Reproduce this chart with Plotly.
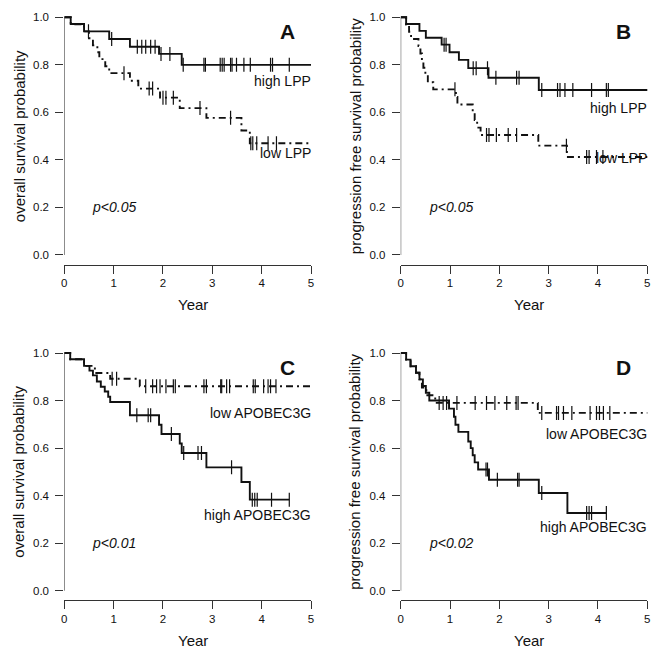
import numpy as np
import plotly.graph_objects as go

# ---------------- data (Kaplan-Meier steps) ----------------
# Panel A: overall survival by LPP
A_high_t = [0.13, 0.40, 0.91, 1.33, 1.92, 2.38]
A_high_s = [0.972, 0.941, 0.909, 0.876, 0.846, 0.800]
A_high_c = [0.49, 0.96, 1.48, 1.57, 1.65, 1.75, 1.84, 1.96, 2.14, 2.41, 2.83, 2.86,
            3.16, 3.20, 3.24, 3.37, 3.40, 3.49, 3.64, 3.77, 4.18, 4.22, 4.56, 5.4]
A_low_t = [0.13, 0.40, 0.50, 0.58, 0.67, 0.71, 0.83, 0.91, 1.33, 1.50, 1.94, 2.34, 2.88, 3.59, 3.76]
A_low_s = [0.971, 0.941, 0.912, 0.882, 0.853, 0.824, 0.794, 0.765, 0.733, 0.700, 0.662,
           0.618, 0.577, 0.524, 0.470]
A_low_c = [1.21, 1.72, 1.79, 2.00, 2.06, 2.21, 2.75, 3.37, 3.78, 3.82, 3.90, 4.13, 4.30, 5.4]

# Panel B: progression free survival by LPP
B_high_t = [0.11, 0.38, 0.51, 0.83, 0.99, 1.18, 1.37, 1.78, 2.80]
B_high_s = [0.972, 0.943, 0.914, 0.885, 0.853, 0.821, 0.786, 0.746, 0.694]
B_high_c = [0.88, 0.92, 1.47, 1.53, 1.76, 1.93, 2.35, 2.40, 2.86, 3.18, 3.23, 3.33,
            3.49, 3.87, 4.17, 4.21, 5.4]
B_low_t = [0.11, 0.17, 0.21, 0.36, 0.40, 0.43, 0.46, 0.50, 0.55, 0.66, 1.12, 1.15,
           1.46, 1.50, 1.55, 1.62, 2.79, 3.37]
B_low_s = [0.970, 0.939, 0.909, 0.879, 0.848, 0.818, 0.788, 0.758, 0.727, 0.697, 0.665,
           0.633, 0.600, 0.568, 0.536, 0.505, 0.460, 0.412]
B_low_c = [1.10, 1.74, 1.79, 1.94, 2.18, 2.35, 3.36, 3.77, 3.82, 3.97, 4.10, 5.4]

# Panel C: overall survival by APOBEC3G
C_high_t = [0.12, 0.40, 0.51, 0.58, 0.66, 0.74, 0.82, 0.89, 0.93, 1.33, 1.92, 1.97,
            2.34, 2.38, 2.88, 3.59, 3.76]
C_high_s = [0.974, 0.946, 0.926, 0.906, 0.880, 0.858, 0.838, 0.816, 0.794, 0.738, 0.698,
            0.659, 0.619, 0.579, 0.519, 0.457, 0.383]
C_high_c = [1.47, 1.70, 1.75, 2.17, 2.42, 2.71, 2.78, 3.39, 3.81, 3.86, 3.91, 4.20, 4.56]
C_low_t = [0.12, 0.40, 0.62, 0.93, 1.53]
C_low_s = [0.974, 0.946, 0.916, 0.892, 0.860]
C_low_c = [0.97, 1.06, 1.65, 1.79, 1.87, 1.94, 2.06, 2.21, 2.25, 2.83, 2.88, 3.17, 3.19,
           3.29, 3.35, 3.83, 3.87, 4.04, 4.13, 4.18, 4.29, 5.4]

# Panel D: progression free survival by APOBEC3G
D_high_t = [0.11, 0.20, 0.31, 0.38, 0.45, 0.51, 0.58, 0.98, 1.08, 1.11, 1.17, 1.37,
            1.42, 1.46, 1.50, 1.57, 1.79, 2.80, 3.38]
D_high_s = [0.972, 0.944, 0.917, 0.889, 0.861, 0.833, 0.800, 0.766, 0.732, 0.698, 0.668,
            0.628, 0.600, 0.570, 0.540, 0.510, 0.467, 0.411, 0.327]
D_high_c = [1.73, 1.76, 1.96, 2.37, 2.40, 2.86, 3.77, 3.82, 3.87, 4.17]
D_low_t = [0.11, 0.20, 0.31, 0.38, 0.43, 0.52, 0.70, 2.78]
D_low_s = [0.972, 0.944, 0.917, 0.889, 0.855, 0.822, 0.790, 0.748]
D_low_c = [0.78, 0.86, 0.93, 1.14, 1.51, 1.74, 1.91, 2.15, 2.34, 2.38, 2.86, 3.16, 3.20,
           3.30, 3.47, 3.84, 3.97, 4.03, 4.11, 4.24, 5.4]

x_ticks = [0, 1, 2, 3, 4, 5]
y_ticks = [0.0, 0.2, 0.4, 0.6, 0.8, 1.0]

panels = [
    dict(letter="A", ytitle="overall survival probability", p="p<0.05",
         curves=[(A_high_t, A_high_s, A_high_c, "solid"), (A_low_t, A_low_s, A_low_c, "dashdot")],
         labels=[("high LPP", 0.73), ("low LPP", 0.43)]),
    dict(letter="B", ytitle="progression free survival probability", p="p<0.05",
         curves=[(B_high_t, B_high_s, B_high_c, "solid"), (B_low_t, B_low_s, B_low_c, "dashdot")],
         labels=[("high LPP", 0.62), ("low LPP", 0.41)]),
    dict(letter="C", ytitle="overall survival probability", p="p<0.01",
         curves=[(C_high_t, C_high_s, C_high_c, "solid"), (C_low_t, C_low_s, C_low_c, "dashdot")],
         labels=[("low APOBEC3G", 0.747), ("high APOBEC3G", 0.318)]),
    dict(letter="D", ytitle="progression free survival probability", p="p<0.02",
         curves=[(D_high_t, D_high_s, D_high_c, "solid"), (D_low_t, D_low_s, D_low_c, "dashdot")],
         labels=[("low APOBEC3G", 0.66), ("high APOBEC3G", 0.27)]),
]

W, H = 660, 662
# pixel geometry of panels (x of year 0 / year 5, y of top/bottom of the y-range)
x_px = [(64.3, 311.0), (400.7, 647.3), (64.3, 311.0), (400.7, 647.3)]
y_px = [(7.8, 264.5), (7.8, 264.5), (343.5, 600.2), (343.5, 600.2)]
ytitle_px = [19, 355, 19, 355]

FONT = "Liberation Sans, Arial, sans-serif"
INK = "#111111"
DASHDOT = "7px,4px,2px,4px"

fig = go.Figure()
annotations = []
shapes = []
layout_axes = {}

for i, pnl in enumerate(panels):
    n = i + 1
    xa = "x" if n == 1 else f"x{n}"
    ya = "y" if n == 1 else f"y{n}"
    x0, x1 = x_px[i]
    yt, yb = y_px[i]
    ppu = (yb - yt) / 1.08
    y0pix = yb - 0.04 * ppu

    def px(xd):
        return (x0 + xd * (x1 - x0) / 5.0) / W

    def py(yd):
        return 1 - (y0pix - yd * ppu) / H

    for (t, s, c, style) in pnl["curves"]:
        t = list(t); s = list(s)
        end = max(t + list(c))
        xs = [0.0] + t + [end]
        ys = [1.0] + s + [s[-1]]
        fig.add_trace(go.Scatter(
            x=xs, y=ys, mode="lines", xaxis=xa, yaxis=ya, showlegend=False,
            line=dict(color=INK, width=1.9, shape="hv",
                      dash="solid" if style == "solid" else DASHDOT),
            hoverinfo="skip"))
        lvl = np.array([1.0] + s)
        idx = np.searchsorted(np.array(t), np.array(c), side="right")
        fig.add_trace(go.Scatter(
            x=c, y=lvl[idx], mode="markers", xaxis=xa, yaxis=ya, showlegend=False,
            marker=dict(symbol="line-ns-open", size=10, color=INK,
                        line=dict(color=INK, width=1.2)),
            hoverinfo="skip"))

    layout_axes["xaxis" if n == 1 else f"xaxis{n}"] = dict(
        domain=[x0 / W, x1 / W], range=[0, 5], anchor=ya,
        showline=True, linecolor="#333", linewidth=1, ticks="outside", ticklen=8,
        tickcolor="#333", tickwidth=1, tickvals=x_ticks, showgrid=False, zeroline=False,
        tickfont=dict(family=FONT, size=11.5, color=INK), automargin=False,
        ticklabeloverflow="allow", fixedrange=True)
    layout_axes["yaxis" if n == 1 else f"yaxis{n}"] = dict(
        domain=[1 - yb / H, 1 - yt / H], range=[-0.04, 1.04], anchor=xa,
        showline=False, ticks="outside", ticklen=8, tickcolor="#333", tickwidth=1,
        tickvals=y_ticks, tickformat=".1f", showgrid=False, zeroline=False,
        tickfont=dict(family=FONT, size=11.5, color=INK), automargin=False,
        ticklabelstandoff=4, ticklabeloverflow="allow", fixedrange=True)
    # R-style y axis line from 0 to 1 only
    shapes.append(dict(type="line", xref=xa, yref=ya, x0=0, x1=0, y0=0, y1=1,
                       line=dict(color="#333", width=1)))

    common = dict(xref="paper", yref="paper", showarrow=False, yanchor="middle")
    annotations.append(dict(text="Year", x=px(2.6), y=1 - (y0pix + 50) / H,
                            xanchor="center", font=dict(family=FONT, size=15, color=INK),
                            **common))
    annotations.append(dict(text=pnl["ytitle"], x=ytitle_px[i] / W,
                            y=1 - ((yt + yb) / 2) / H, xanchor="center", textangle=-90,
                            font=dict(family=FONT, size=15, color=INK), **common))
    annotations.append(dict(text=f"<b>{pnl['letter']}</b>", x=px(4.52), y=py(0.94),
                            xanchor="center", font=dict(family=FONT, size=21, color=INK),
                            **common))
    annotations.append(dict(text=f"<i>{pnl['p']}</i>", x=px(0.53), y=py(0.2),
                            xanchor="left", font=dict(family=FONT, size=14, color=INK),
                            **common))
    for (txt, yy) in pnl["labels"]:
        annotations.append(dict(text=txt, x=px(5.04), y=py(yy), xanchor="right",
                                font=dict(family=FONT, size=14, color=INK), **common))

fig.update_layout(
    width=W, height=H, margin=dict(l=0, r=0, t=0, b=0),
    paper_bgcolor="white", plot_bgcolor="white",
    annotations=annotations, shapes=shapes, showlegend=False,
    **layout_axes)

fig.write_html("out.html", config={"displayModeBar": False},
               post_script="document.body.style.margin='0';"
                           "document.body.style.overflow='hidden';")
